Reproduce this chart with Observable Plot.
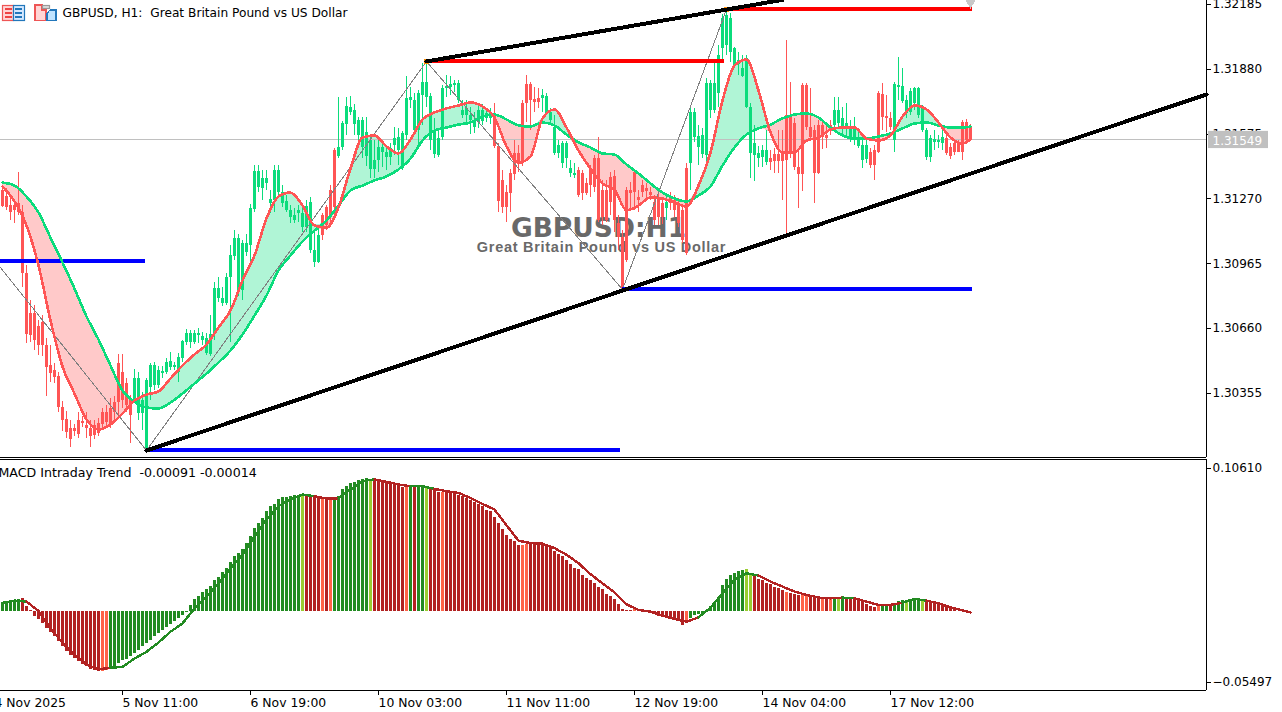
<!DOCTYPE html>
<html><head><meta charset="utf-8">
<script src="https://cdn.jsdelivr.net/npm/d3@7"></script>
<script src="https://cdn.jsdelivr.net/npm/@observablehq/plot@0.6"></script>
<style>
html,body{margin:0;padding:0;background:#fff;overflow:hidden}
#wrap{position:relative;width:1282px;height:712px}
#wrap>svg{display:block}
#icons{position:absolute;left:0;top:0}
#wrap svg path,#wrap svg line{shape-rendering:crispEdges}
</style></head><body><div id="wrap"></div>
<script>
// Candle values in points above 1.30000 (1 point = 0.00001)
const highs=[1329,1319,1286,1263,1395,1239,956,792,768,698,721,613,580,495,453,316,269,227,208,265,246,265,227,227,236,283,297,330,340,538,538,424,344,467,453,359,424,495,500,481,481,519,548,500,543,604,656,651,651,660,642,637,721,877,900,853,919,1050,1121,1102,1074,1102,1244,1427,1427,1404,1404,1310,1427,1427,1333,1286,1239,1225,1239,1230,1263,1277,1126,1130,1202,1239,1333,1507,1747,1634,1747,1752,1714,1653,1653,1653,1564,1545,1545,1545,1507,1531,1606,1602,1587,1847,1794,1766,1780,1908,1908,1766,1648,1592,1803,1851,1847,1827,1827,1733,1733,1700,1677,1705,1714,1686,1695,1719,1531,1404,1333,1409,1545,1522,1733,1851,1818,1794,1790,1785,1766,1695,1662,1545,1540,1540,1451,1437,1418,1404,1366,1427,1475,1559,1357,1357,1395,1404,1192,1121,1324,1348,1404,1310,1357,1343,1324,1286,1300,1272,1286,1300,1286,1272,1239,1437,1710,1695,1616,1602,1837,1827,1912,1992,2138,2162,2143,1983,1959,1945,1945,1719,1616,1517,1522,1592,1498,1507,1592,1592,2016,1818,1648,1498,1813,1813,1790,1616,1639,1639,1616,1639,1747,1747,1700,1719,1639,1653,1592,1545,1554,1507,1522,1776,1813,1757,1677,1818,1936,1884,1757,1790,1794,1794,1710,1602,1569,1592,1569,1592,1569,1531,1545,1545,1639,1644,1620];
const lows=[1230,1216,1168,1154,1192,853,590,594,557,533,529,340,406,401,265,175,142,100,152,142,194,142,100,138,152,189,199,189,227,250,283,265,119,312,227,180,81,321,368,378,424,443,462,462,406,500,580,566,585,590,580,533,529,604,783,764,768,594,980,811,792,999,971,1206,1300,1263,1310,1202,1206,1286,1230,1206,1154,1154,1159,1112,1112,1013,947,966,1074,1121,1145,1192,1460,1498,1569,1662,1569,1545,1460,1423,1366,1366,1395,1418,1404,1427,1475,1427,1404,1545,1695,1569,1512,1616,1700,1498,1460,1465,1545,1747,1757,1771,1719,1648,1630,1573,1578,1602,1616,1630,1620,1507,1206,1202,1159,1206,1357,1395,1423,1630,1592,1677,1695,1677,1662,1616,1475,1460,1413,1413,1371,1366,1277,1263,1286,1277,1300,1159,1145,1159,1192,1112,1027,843,971,1216,1216,1206,1277,1272,1263,1145,1145,1150,1168,1216,1183,1135,1060,1004,1310,1536,1427,1460,1427,1648,1672,1700,1922,1945,1912,1884,1851,1842,1695,1366,1352,1418,1418,1427,1404,1390,1390,1263,1084,1460,1404,1225,1305,1592,1545,1248,1385,1503,1507,1569,1583,1602,1569,1554,1536,1522,1507,1413,1437,1413,1357,1484,1592,1583,1592,1489,1733,1719,1648,1662,1686,1648,1583,1451,1442,1498,1507,1498,1475,1456,1475,1489,1451,1531,1540];
const opens=[1310,1281,1239,1239,1249,1206,919,731,731,670,688,580,486,462,434,288,232,189,189,227,222,203,189,203,213,265,265,283,312,495,453,401,321,321,260,260,86,383,392,392,448,453,476,476,453,519,594,594,594,627,604,543,538,637,801,778,778,900,999,830,839,1018,1051,1220,1324,1319,1343,1249,1263,1300,1249,1216,1183,1168,1202,1135,1135,1027,971,971,1192,1230,1310,1498,1470,1512,1620,1677,1620,1569,1512,1470,1409,1409,1451,1489,1465,1465,1522,1498,1413,1569,1733,1592,1592,1757,1747,1545,1479,1475,1559,1790,1794,1804,1733,1662,1662,1639,1606,1630,1634,1648,1648,1672,1517,1357,1300,1390,1484,1484,1719,1809,1809,1738,1743,1743,1672,1639,1484,1484,1437,1460,1390,1380,1404,1390,1343,1413,1460,1460,1310,1310,1371,1376,1154,1088,1310,1310,1395,1277,1333,1319,1300,1253,1277,1249,1225,1277,1263,1239,1216,1413,1437,1559,1512,1479,1475,1686,1686,1766,1978,1992,1959,1898,1903,1846,1700,1484,1475,1460,1465,1441,1460,1479,1479,1484,1663,1653,1625,1418,1804,1804,1606,1592,1616,1616,1569,1616,1616,1625,1602,1602,1554,1545,1517,1451,1456,1489,1498,1766,1762,1658,1649,1545,1795,1729,1672,1677,1719,1663,1592,1465,1465,1536,1536,1531,1554,1512,1531,1531,1630,1630,1606];
const closes=[1234,1230,1206,1216,1206,919,632,627,604,580,580,476,448,429,288,227,171,138,175,161,213,189,152,156,166,208,218,208,265,312,321,297,250,425,425,321,415,486,486,462,458,500,505,486,524,599,637,637,637,637,622,613,632,848,848,801,900,1004,1084,1084,1060,1060,1225,1399,1399,1366,1366,1267,1404,1404,1300,1258,1216,1192,1216,1202,1234,1253,1027,1098,1098,1145,1183,1230,1512,1625,1705,1700,1686,1639,1639,1583,1545,1451,1512,1512,1489,1507,1554,1559,1578,1743,1747,1733,1766,1818,1818,1752,1583,1554,1790,1799,1809,1813,1813,1686,1695,1662,1639,1686,1686,1672,1672,1517,1258,1230,1230,1296,1385,1437,1442,1719,1733,1724,1724,1757,1752,1677,1606,1522,1531,1531,1413,1390,1286,1296,1296,1333,1324,1168,1183,1168,1253,1168,1088,848,980,1296,1300,1263,1300,1305,1286,1168,1183,1183,1253,1249,1216,1154,1074,1013,1677,1677,1564,1569,1813,1813,1813,1945,2119,2133,2119,1978,1922,1884,1931,1700,1531,1484,1498,1498,1441,1446,1446,1446,1451,1484,1418,1385,1385,1606,1559,1390,1390,1559,1554,1602,1686,1686,1649,1625,1602,1606,1559,1522,1522,1427,1427,1489,1653,1649,1606,1809,1804,1799,1733,1776,1790,1790,1696,1592,1554,1550,1545,1559,1484,1470,1489,1489,1489,1545,1549];
// Moving averages, read at every third bar
const maBars=[0,3,6,9,12,15,18,21,24,27,30,33,36,39,42,45,48,51,54,57,60,63,66,69,72,75,78,81,84,87,90,93,96,99,102,105,108,111,114,117,120,123,126,129,132,135,138,141,144,147,150,153,156,159,162,165,168,171,174,177,180,183,186,189,192,195,198,201,204,207,210,213,216,219,222,225,228,231,234,237,240,242];
const slowMA=[1347,1333,1281,1206,1088,971,848,717,608,486,368,316,288,284,312,354,401,448,500,557,632,721,815,933,1004,1070,1121,1168,1239,1310,1333,1357,1376,1409,1460,1545,1592,1606,1620,1630,1658,1667,1644,1616,1611,1630,1616,1573,1536,1512,1484,1479,1432,1390,1343,1300,1272,1258,1286,1329,1427,1512,1573,1602,1620,1649,1667,1672,1653,1606,1569,1554,1554,1564,1578,1602,1625,1630,1616,1606,1606,1611];
const fastMA=[1329,1258,1145,957,698,481,354,232,185,208,260,321,349,364,425,486,538,585,665,745,886,1004,1178,1281,1300,1239,1145,1135,1230,1413,1559,1569,1517,1484,1550,1644,1677,1696,1710,1724,1705,1653,1517,1441,1470,1649,1691,1606,1498,1413,1343,1314,1216,1239,1277,1272,1253,1234,1333,1489,1733,1898,1926,1780,1583,1489,1489,1545,1559,1597,1606,1606,1554,1545,1569,1658,1710,1691,1630,1559,1531,1550];
// MACD histogram and signal, in units of 0.0001
const macdHist=[65,70,77,79,84,89,35,5,-35,-58,-86,-117,-145,-175,-210,-245,-275,-303,-327,-350,-366,-385,-401,-408,-415,-415,-408,-397,-385,-362,-343,-334,-315,-292,-268,-245,-222,-198,-175,-152,-128,-110,-89,-70,-51,-28,-7,40,82,105,135,152,175,215,238,273,303,345,385,404,432,478,525,579,618,653,695,735,747,782,793,798,805,812,812,817,817,805,798,786,786,786,786,789,805,852,875,891,903,915,922,926,922,915,910,905,898,894,887,882,863,868,875,868,875,875,868,863,847,833,833,833,833,833,812,805,789,777,763,747,735,705,695,658,614,572,530,506,490,462,462,467,471,471,471,467,462,448,420,401,385,355,327,303,292,252,229,215,198,168,152,117,105,82,47,12,5,5,12,9,5,-5,-7,-19,-33,-40,-47,-54,-63,-65,-98,-82,-47,-30,-19,-12,5,35,58,98,180,222,250,264,280,287,292,261,252,222,215,198,187,168,159,145,135,128,117,112,117,117,112,98,98,93,93,93,98,93,98,93,93,89,82,75,51,35,28,42,42,42,47,58,70,77,65,86,93,93,82,75,70,63,54,35,30,19,14,2,-2,-2,2];
const macdSignal=[61,77,70,5,-117,-217,-303,-369,-401,-392,-385,-327,-280,-215,-140,-82,23,105,198,303,397,525,642,735,782,817,805,789,789,852,910,922,905,887,875,875,856,840,828,793,751,712,602,495,478,474,443,397,338,261,198,135,51,12,0,-28,-51,-70,-40,28,128,222,268,252,210,175,140,117,98,93,98,93,70,47,47,63,89,77,58,30,9,-5];
const macdRuns=[["g",5],["r",20],["o",2],["g",48],["l",1],["r",4],["o",1],["r",1],["o",1],["g",9],["l",1],["r",8],["o",1],["g",1],["r",1],["g",2],["l",1],["r",3],["o",1],["r",19],["o",2],["r",26],["o",1],["r",12],["o",1],["g",14],["l",2],["r",8],["o",1],["r",3],["o",2],["r",3],["o",1],["r",1],["o",1],["g",1],["l",1],["g",1],["r",8],["o",1],["g",2],["r",1],["g",3],["l",1],["g",3],["l",1],["r",12]];
// Axes
const priceTicks=[1.32185,1.3188,1.31575,1.3127,1.30965,1.3066,1.30355];
const timeBars=[-2,30,62,94,126,158,190,222];
const timeLabels=["4 Nov 2025","5 Nov 11:00","6 Nov 19:00","10 Nov 03:00","11 Nov 11:00","12 Nov 19:00","14 Nov 04:00","17 Nov 12:00"];
// Drawn objects (bar index, price)
const zigzagBars=[-0.5,36,106,155,181];
const zigzagPts=[947,86,1917,844,2162];
const supportBars=[36,301], supportPts=[86,1762];
const resistBars=[106,195], resistPts=[1917,2207];
const redLevels=[{a:106,b:180.5,p:1917},{a:181,b:242.5,p:2162}];
const blueLevels=[{a:-0.5,b:35.75,p:976},{a:36,b:154.5,p:86},{a:155,b:242.5,p:844}];

const px=v=>1.3+v/1e5;
const FONT="'DejaVu Sans',sans-serif";
const GREEN="#0bdc7c",RED="#ff5555",LGREEN="#b0f5d6",LRED="#ffc9c9";
const bars=highs.map((h,i)=>({i,high:px(h),low:px(lows[i]),open:px(opens[i]),close:px(closes[i]),col:closes[i]>=opens[i]?GREEN:RED}));
const ma=maBars.map((i,k)=>({i,slow:px(slowMA[k]),fast:px(fastMA[k])}));
const pts=(xs,ys)=>xs.map((x,k)=>({x,y:px(ys[k])}));
const bid=1.31549;
const xOpt={domain:[-0.5,301],axis:null};
const mainY=[1.30053,1.32204];

const main=Plot.plot({
  width:1282,height:458,marginTop:0,marginBottom:1,marginLeft:0,marginRight:76,
  style:{fontFamily:FONT,fontSize:"12px",color:"#000",background:"#fff",overflow:"hidden"},
  x:xOpt,y:{domain:mainY,axis:null},color:{type:"identity"},
  marks:[
    Plot.text(["GBPUSD:H1"],{x:[149],y:[1.31131],fontSize:26.5,fontWeight:"bold",fontFamily:"'DejaVu Sans'",fill:"#696969"}),
    Plot.text(["Great Britain Pound vs US Dollar"],{x:[149.75],y:[1.31041],fontSize:14.5,fontWeight:"bold",fontFamily:"'Liberation Sans'",fill:"#696969"}),
    Plot.areaY(ma,{x:"i",y1:"slow",y2:d=>Math.max(d.slow,d.fast),fill:LGREEN,curve:"monotone-x"}),
    Plot.areaY(ma,{x:"i",y1:"slow",y2:d=>Math.min(d.slow,d.fast),fill:LRED,curve:"monotone-x"}),
    Plot.ruleY([bid],{stroke:"#c0c0c0",strokeWidth:1}),
    Plot.ruleX(bars,{x:"i",y1:"low",y2:"high",stroke:"col",strokeWidth:1}),
    Plot.ruleX(bars,{x:"i",y1:"open",y2:"close",stroke:"col",strokeWidth:3}),
    Plot.line(pts(zigzagBars,zigzagPts),{x:"x",y:"y",stroke:"#808080",strokeWidth:1}),
    Plot.ruleY(redLevels,{x1:"a",x2:"b",y:d=>px(d.p),stroke:"#ff0000",strokeWidth:4}),
    Plot.ruleY(blueLevels,{x1:"a",x2:"b",y:d=>px(d.p),stroke:"#0000ff",strokeWidth:4}),
    Plot.dot([106,181],{x:d=>d,y:d=>px(d==106?1917:2162),symbol:"square",r:2.5,fill:"#ff8c00"}),
    Plot.line(pts(resistBars,resistPts),{x:"x",y:"y",stroke:"#000",strokeWidth:4}),
    Plot.line(pts(supportBars,supportPts),{x:"x",y:"y",stroke:"#000",strokeWidth:4}),
    Plot.line(ma,{x:"i",y:"slow",stroke:GREEN,strokeWidth:2.6,curve:"monotone-x"}),
    Plot.line(ma,{x:"i",y:"fast",stroke:RED,strokeWidth:2.6,curve:"monotone-x"}),
    Plot.dot([242],{x:d=>d,y:[1.32204],symbol:"diamond",r:5,fill:"#c8c8c8"}),
    Plot.ruleY([mainY[0]],{stroke:"#000"}),
    Plot.ruleX([301],{stroke:"#000"}),
    Plot.axisY({anchor:"right",ticks:priceTicks,tickFormat:d3.format(".5f"),tickSize:4,tickPadding:2,label:null,stroke:"#000",fill:"#000",textAnchor:"start"}),
    Plot.rect([0],{x1:[301.5],x2:[316.5],y1:[1.31507],y2:[1.31588],fill:"#c0c0c0"}),
    Plot.text(["1.31549"],{x:[302.5],y:[bid],dy:1,textAnchor:"start",fill:"#fff"}),
    Plot.text(["GBPUSD,\u00a0H1:\u00a0\u00a0Great Britain Pound vs US Dollar"],{frameAnchor:"top-left",dx:62,dy:8,textAnchor:"start",lineAnchor:"top",fill:"#000",fontSize:12.2})
  ]});

// MACD panel
const states=macdRuns.flatMap(([s,n])=>Array(n).fill(s));
const macdCol={g:"forestgreen",r:"firebrick",o:"tomato",l:"yellowgreen"};
const lineCol={g:"forestgreen",l:"forestgreen",r:"firebrick",o:"firebrick"};
const hist=macdHist.map((v,i)=>({i,v:v/1e4,col:macdCol[states[i]]}));
const sig=maBars.map((i,k)=>({i,v:macdSignal[k]/1e4,col:lineCol[states[i]]}));
const mTop=0.1061,mBot=-0.05497;
const macd=Plot.plot({
  width:1282,height:254,marginTop:1,marginBottom:22,marginLeft:0,marginRight:76,
  style:{fontFamily:FONT,fontSize:"12.4px",color:"#000",background:"#fff",overflow:"hidden"},
  x:{domain:[-0.5,301],axis:null},y:{domain:[mBot,mTop],axis:null},color:{type:"identity"},
  marks:[
    Plot.ruleX(hist,{x:"i",y1:0,y2:"v",stroke:"col",strokeWidth:3}),
    Plot.line(sig,{x:"i",y:"v",z:null,stroke:"col",strokeWidth:2.4}),
    Plot.ruleY([mTop],{stroke:"#000"}),
    Plot.ruleY([mBot],{stroke:"#000"}),
    Plot.ruleX([301],{stroke:"#000"}),
    Plot.axisY({anchor:"right",ticks:[mTop],tickFormat:d3.format(".5f"),tickSize:4,tickPadding:2,dy:9,fontSize:12,label:null,textAnchor:"start"}),
    Plot.axisY({anchor:"right",ticks:[mBot],tickFormat:d3.format(".5f"),tickSize:4,tickPadding:2,dy:-8,fontSize:12,label:null,textAnchor:"start"}),
    Plot.axisX({anchor:"bottom",ticks:timeBars,tickFormat:d=>timeLabels[timeBars.indexOf(d)],tickSize:5,tickPadding:3,label:null,textAnchor:"start"}),
    Plot.text(["MACD Intraday Trend\u00a0\u00a0-0.00091 -0.00014"],{frameAnchor:"top-left",dx:-2,dy:9,textAnchor:"start",lineAnchor:"top",fill:"#000",fontSize:12.6})
  ]});

const wrap=document.getElementById("wrap");
wrap.append(main,macd);
// widen the watermark subtitle by letter spacing, as in the reference
main.querySelectorAll("text").forEach(t=>{if(t.textContent.startsWith("Great Britain Pound vs US Dollar"))t.style.letterSpacing="0.72px";});
wrap.insertAdjacentHTML("beforeend",`<svg id="icons" width="60" height="24">
<g stroke-width="1.2"><rect x="2.5" y="5.5" width="11" height="15" fill="#ffd5d5" stroke="#e55"/><rect x="13.5" y="5.5" width="11" height="15" fill="#d5e8ff" stroke="#27b"/>
<path d="M5 9h7M5 13h7M5 17h7" stroke="#e44"/><path d="M15 9h7M15 13h7M15 17h7" stroke="#27b"/>
<path d="M35 5h7v5h4v10.5h-11z" fill="#ffd5d5" stroke="#e55"/><path d="M50 10h6v10.5h-9v-7z" fill="#bfe3ff" stroke="#27b"/><rect x="42.5" y="5.5" width="7" height="3" fill="#ddd" stroke="#999"/></g></svg>`);
</script></body></html>
